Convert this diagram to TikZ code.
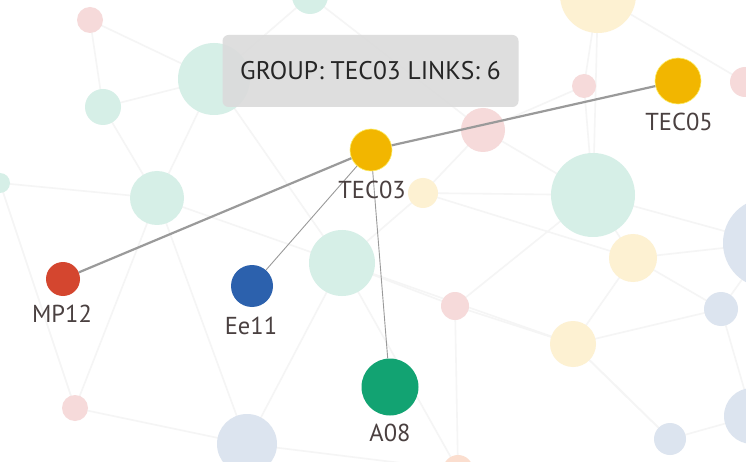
\documentclass[tikz,border=0pt]{standalone}
\usepackage{fontspec}
\setmainfont{PT Sans}
\usetikzlibrary{shadows}
\definecolor{bgreen}{HTML}{D6EFE7}
\definecolor{bpink}{HTML}{F6DADA}
\definecolor{byellow}{HTML}{FDF1D2}
\definecolor{bblue}{HTML}{DCE4EF}
\definecolor{tecy}{HTML}{F2B600}
\definecolor{mpred}{HTML}{D4462F}
\definecolor{eeblue}{HTML}{2C61AD}
\definecolor{agreen}{HTML}{12A372}
\definecolor{lbl}{HTML}{4A4040}
\definecolor{edge}{HTML}{9A9A9A}
\tikzset{
  main/.style={circle, inner sep=0pt, minimum size=#1},
  lab/.style={text=lbl, font=\fontsize{24.5}{24.5}\selectfont, inner sep=0pt},
  faint/.style={draw=black!4, line width=1.6pt},
  strong/.style={draw=edge, line width=2.2pt},
  thin/.style={draw=edge, line width=0.9pt},
}
\begin{document}
\begin{tikzpicture}[x=1pt,y=-1pt]
\useasboundingbox (0,0) rectangle (746,462);
\fill[white] (0,0) rectangle (746,462);
\begin{scope}
\clip (0,0) rectangle (746,462);
% background coordinates
\coordinate (b1) at (90,20);
\coordinate (b2) at (310,-4);
\coordinate (b3) at (214,79);
\coordinate (b4) at (103,107);
\coordinate (b5) at (157,198);
\coordinate (b6) at (0,183);
\coordinate (b7) at (598,-5);
\coordinate (b8) at (584,86);
\coordinate (b9) at (483,130);
\coordinate (b10) at (745,82);
\coordinate (b11) at (423,193);
\coordinate (b12) at (593,195);
\coordinate (b13) at (768,243);
\coordinate (b14) at (342,263);
\coordinate (b15) at (75,408);
\coordinate (b16) at (247,444);
\coordinate (b17) at (633,258);
\coordinate (b18) at (455,306);
\coordinate (b19) at (573,344);
\coordinate (b20) at (721,309);
\coordinate (b21) at (752,416);
\coordinate (b22) at (670,439);
\coordinate (b23) at (458,470);
% faint background links
\foreach \a/\b in {b1/b3, b1/b4, b4/b3, b4/b5, b3/b5, b5/b6, b3/b2, b2/b9, b3/b14, b5/b14,
  b14/b11, b11/b9, b9/b8, b8/b7, b7/b10, b8/b12, b12/b13, b12/b17, b17/b13, b17/b20,
  b12/b11, b14/b18, b18/b19, b19/b17, b19/b20, b20/b21, b21/b22, b22/b19, b14/b16,
  b16/b15, b15/b5, b18/b23, b16/b23, b14/b19, b11/b17, b9/b12, b7/b12, b10/b13,
  b5/b16, b6/b15, b19/b22, b13/b20, b18/b12, b14/b23, b2/b7}
  \draw[faint] (\a) -- (\b);
\fill[bpink] (b1) circle (13);
\fill[bgreen] (b2) circle (18);
\fill[bgreen] (b3) circle (36);
\fill[bgreen] (b4) circle (18);
\fill[bgreen] (b5) circle (27);
\fill[bgreen] (b6) circle (10);
\fill[byellow] (b7) circle (38);
\fill[bpink] (b8) circle (12);
\fill[bpink] (b9) circle (22);
\fill[bpink] (b10) circle (15);
\fill[byellow] (b11) circle (15);
\fill[bgreen] (b12) circle (42);
\fill[bblue] (b13) circle (45);
\fill[bgreen] (b14) circle (33);
\fill[bpink] (b15) circle (13);
\fill[bblue] (b16) circle (30);
\fill[byellow] (b17) circle (24);
\fill[bpink] (b18) circle (14);
\fill[byellow] (b19) circle (23);
\fill[bblue] (b20) circle (17);
\fill[bblue] (b21) circle (28);
\fill[bblue] (b22) circle (16);
\fill[bpink!80!orange!60] (b23) circle (15);
\end{scope}
% tooltip
\node[fill=black!14, fill opacity=0.9, text opacity=1, rounded corners=6pt,
      minimum width=296pt, minimum height=72pt, inner sep=0pt,
      text=black!85, font=\fontsize{25.5}{25.5}\selectfont] (tip) at (370.5,71)
      {GROUP: TEC03 LINKS: 6};
% main nodes
\node[main=42pt, fill=tecy, draw=tecy!40!yellow!60, line width=0.6pt] (tec03) at (371,150) {};
\node[main=46pt, fill=tecy, draw=tecy!40!yellow!60, line width=0.6pt] (tec05) at (678,81) {};
\node[main=34pt, fill=mpred] (mp12) at (63,279) {};
\node[main=42pt, fill=eeblue] (ee11) at (252,286) {};
\node[main=57pt, fill=agreen] (a08) at (390,387) {};
% links
\draw[strong] (mp12) -- (tec03);
\draw[strong] (tec03) -- (tec05);
\draw[thin] (tec03) -- (ee11);
\draw[thin] (tec03) -- (a08);
% labels
\node[lab] (ltec03) at (372,190) {TEC03};
\node[lab] (ltec05) at (679,122) {TEC05};
\node[lab] (lmp12) at (62,314) {MP12};
\node[lab] (lee11) at (251,326) {Ee11};
\node[lab] (la08) at (390,433) {A08};
\end{tikzpicture}
\end{document}
